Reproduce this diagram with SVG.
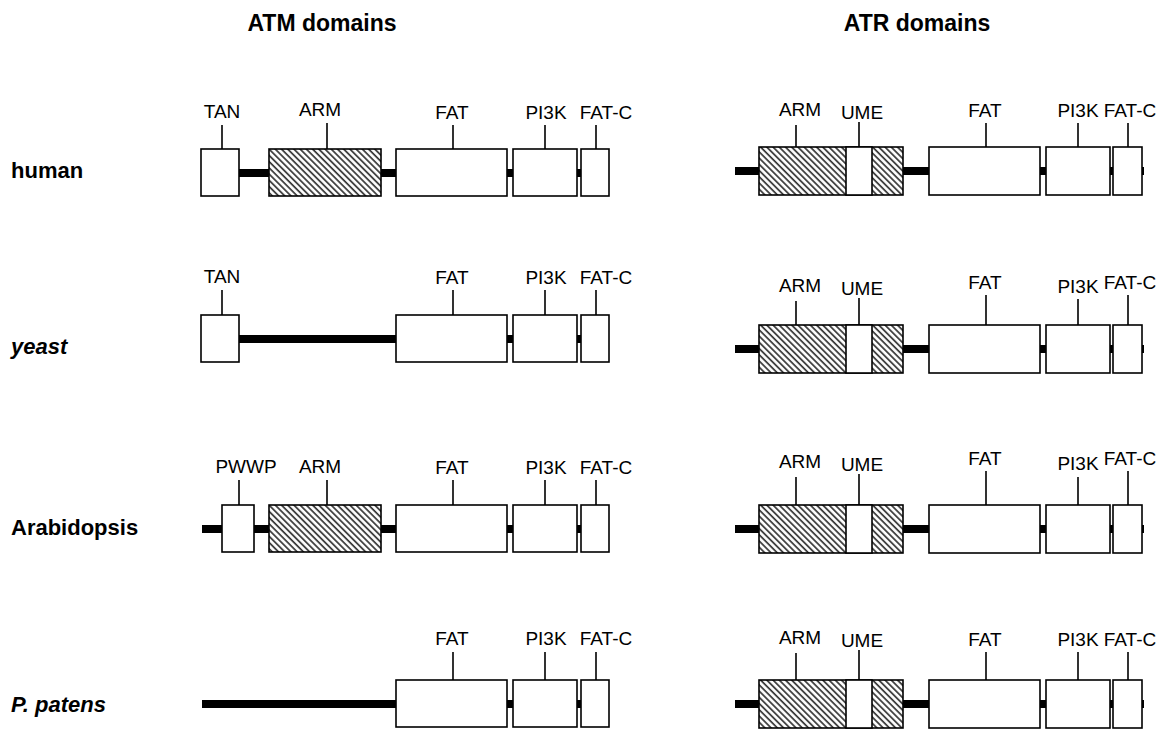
<svg xmlns="http://www.w3.org/2000/svg" width="1168" height="751" viewBox="0 0 1168 751">
<style>
.bg{fill:#fff}
.title{font-family:"Liberation Sans",Arial,sans-serif;font-weight:bold;font-size:23px;fill:#000}
.row{font-family:"Liberation Sans",Arial,sans-serif;font-weight:bold;font-size:22px;fill:#000}
.it{font-style:italic}
.lbl{font-family:"Liberation Sans",Arial,sans-serif;font-size:19px;fill:#000;text-anchor:middle}
.box{fill:#fff;stroke:#000;stroke-width:1.6}
.hatch{fill:url(#hatch);stroke:#000;stroke-width:1.6}
.bar{fill:#000}
.tick{stroke:#000;stroke-width:1.6}
</style>
<defs>
<pattern id="hatch" patternUnits="userSpaceOnUse" width="4.4" height="10" patternTransform="rotate(-45)">
<rect width="4.4" height="10" fill="#fff"/>
<line x1="1" y1="0" x2="1" y2="10" stroke="#333" stroke-width="1.7"/>
</pattern>
<g id="atmBoxes">
<rect class="box" x="396" y="0" width="111" height="47"/>
<rect class="box" x="513" y="0" width="64" height="47"/>
<rect class="box" x="581" y="0" width="28" height="47"/>
</g>
<g id="atrBoxes">
<rect class="bar" x="735" y="20" width="409" height="8"/>
<rect class="hatch" x="759" y="0" width="144" height="48"/>
<rect class="box" x="846" y="0" width="26" height="48"/>
<rect class="box" x="929" y="0" width="111" height="48"/>
<rect class="box" x="1046" y="0" width="64" height="48"/>
<rect class="box" x="1113" y="0" width="29" height="48"/>
</g>
</defs>
<rect class="bg" width="1168" height="751"/>
<g id="titles">
<text class="title" x="322" y="31" text-anchor="middle">ATM domains</text>
<text class="title" x="917" y="31" text-anchor="middle">ATR domains</text>
</g>
<g id="row-labels">
<text class="row" x="11" y="178">human</text>
<text class="row it" x="11" y="354">yeast</text>
<text class="row" x="11" y="535">Arabidopsis</text>
<text class="row it" x="11" y="712">P. patens</text>
</g>
<g id="connectors">
<rect class="bar" x="239" y="169" width="370" height="8"/>
<rect class="bar" x="239" y="335" width="370" height="8"/>
<rect class="bar" x="202" y="525" width="407" height="8"/>
<rect class="bar" x="202" y="700" width="407" height="8"/>
</g>
<g id="atm-human" transform="translate(0,149)">
<rect class="box" x="201" y="0" width="38" height="47"/>
<rect class="hatch" x="269" y="0" width="112" height="47"/>
<use href="#atmBoxes"/>
<path class="tick" d="M222-24V0M327-26V0M453-24V0M545-24V0M596-24V0"/>
<text class="lbl" x="222" y="-31">TAN</text>
<text class="lbl" x="320" y="-33">ARM</text>
<text class="lbl" x="452" y="-30">FAT</text>
<text class="lbl" x="546" y="-30">PI3K</text>
<text class="lbl" x="606" y="-30">FAT-C</text>
</g>
<g id="atm-yeast" transform="translate(0,315)">
<rect class="box" x="201" y="0" width="38" height="47"/>
<use href="#atmBoxes"/>
<path class="tick" d="M222-25V0M453-25V0M545-25V0M596-25V0"/>
<text class="lbl" x="222" y="-32">TAN</text>
<text class="lbl" x="452" y="-31">FAT</text>
<text class="lbl" x="546" y="-31">PI3K</text>
<text class="lbl" x="606" y="-31">FAT-C</text>
</g>
<g id="atm-arabidopsis" transform="translate(0,505)">
<rect class="box" x="222" y="0" width="32" height="47"/>
<rect class="hatch" x="269" y="0" width="112" height="47"/>
<use href="#atmBoxes"/>
<path class="tick" d="M239-25V0M327-25V0M453-25V0M545-25V0M596-25V0"/>
<text class="lbl" x="246" y="-32">PWWP</text>
<text class="lbl" x="320" y="-32">ARM</text>
<text class="lbl" x="452" y="-31">FAT</text>
<text class="lbl" x="546" y="-31">PI3K</text>
<text class="lbl" x="606" y="-31">FAT-C</text>
</g>
<g id="atm-ppatens" transform="translate(0,680)">
<use href="#atmBoxes"/>
<path class="tick" d="M453-28V0M545-28V0M596-28V0"/>
<text class="lbl" x="452" y="-35">FAT</text>
<text class="lbl" x="546" y="-35">PI3K</text>
<text class="lbl" x="606" y="-35">FAT-C</text>
</g>
<g id="atr-human" transform="translate(0,147)">
<use href="#atrBoxes"/>
<path class="tick" d="M796-22V0M859-25V0M986-24V0M1078-24V0M1128-24V0"/>
<text class="lbl" x="800" y="-31">ARM</text>
<text class="lbl" x="862" y="-28">UME</text>
<text class="lbl" x="985" y="-30">FAT</text>
<text class="lbl" x="1078" y="-30">PI3K</text>
<text class="lbl" x="1130" y="-30">FAT-C</text>
</g>
<g id="atr-yeast" transform="translate(0,325)">
<use href="#atrBoxes"/>
<path class="tick" d="M796-24V0M859-27V0M986-30V0M1078-26V0M1128-30V0"/>
<text class="lbl" x="800" y="-33">ARM</text>
<text class="lbl" x="862" y="-30">UME</text>
<text class="lbl" x="985" y="-36">FAT</text>
<text class="lbl" x="1078" y="-32">PI3K</text>
<text class="lbl" x="1130" y="-36">FAT-C</text>
</g>
<g id="atr-arabidopsis" transform="translate(0,505)">
<use href="#atrBoxes"/>
<path class="tick" d="M796-28V0M859-31V0M986-34V0M1078-28V0M1128-34V0"/>
<text class="lbl" x="800" y="-37">ARM</text>
<text class="lbl" x="862" y="-34">UME</text>
<text class="lbl" x="985" y="-40">FAT</text>
<text class="lbl" x="1078" y="-35">PI3K</text>
<text class="lbl" x="1130" y="-40">FAT-C</text>
</g>
<g id="atr-ppatens" transform="translate(0,680)">
<use href="#atrBoxes"/>
<path class="tick" d="M796-27V0M859-30V0M986-28V0M1078-28V0M1128-28V0"/>
<text class="lbl" x="800" y="-36">ARM</text>
<text class="lbl" x="862" y="-33">UME</text>
<text class="lbl" x="985" y="-34">FAT</text>
<text class="lbl" x="1078" y="-34">PI3K</text>
<text class="lbl" x="1130" y="-34">FAT-C</text>
</g>
</svg>
